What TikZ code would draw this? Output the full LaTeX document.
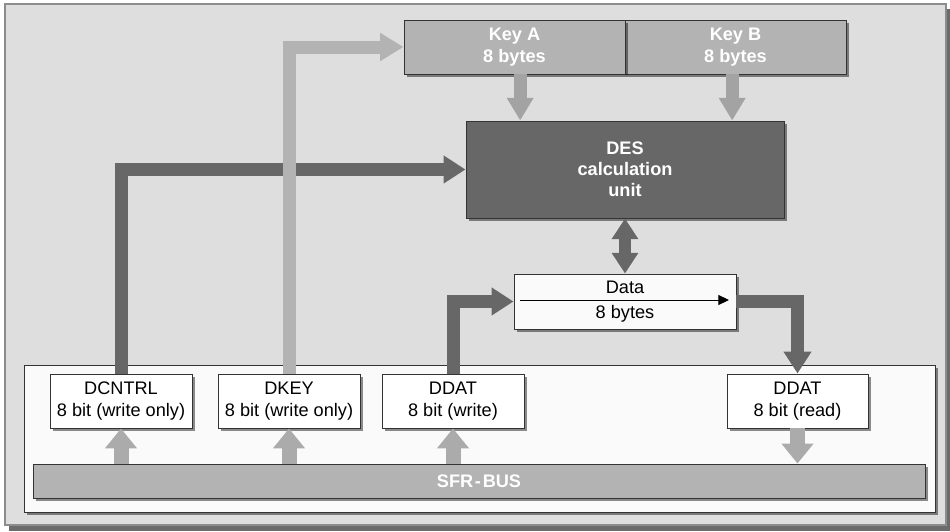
\documentclass[tikz,border=0pt]{standalone}
\usepackage{fontspec}
\setmainfont{Liberation Sans}
\usetikzlibrary{arrows.meta,shadows}
\definecolor{bggray}{HTML}{DEDEDE}
\definecolor{framegray}{HTML}{8C8C8C}
\definecolor{innerwhite}{HTML}{FAFAFA}
\definecolor{boxgray}{HTML}{B3B3B3}
\definecolor{darkgray}{HTML}{676767}
\definecolor{lightarrow}{HTML}{ABABAB}
\definecolor{keyarrow}{HTML}{A3A3A3}
\definecolor{bordergray}{HTML}{333333}
\begin{document}
\begin{tikzpicture}[x=0.03cm,y=-0.03cm,
  font=\fontsize{15.5}{18.5}\selectfont,
  shade/.style={drop shadow={shadow xshift=0.08cm,shadow yshift=-0.08cm,fill=black,opacity=0.45}},
  box/.style={draw=bordergray,line width=0.8pt,inner sep=0pt,align=center,shade},
  regbox/.style={box,fill=white,minimum width=4.26cm,minimum height=1.62cm},
  keybox/.style={box,fill=boxgray,text=white,font=\fontsize{15.5}{18.5}\selectfont\bfseries,minimum width=6.63cm,minimum height=1.62cm},
  darrow/.style={draw=darkgray,line width=0.39cm,-{Triangle[width=0.8cm,length=0.66cm]}},
  dkarrow/.style={draw=boxgray,line width=0.39cm,-{Triangle[width=0.8cm,length=0.7cm]}},
  karrow/.style={draw=keyarrow,line width=0.39cm,-{Triangle[width=0.76cm,length=0.68cm]}},
  busarrow/.style={draw=lightarrow,line width=0.45cm,-{Triangle[width=0.93cm,length=0.6cm]}},
  dblarrow/.style={draw=darkgray,line width=0.38cm,{Triangle[width=0.76cm,length=0.62cm]}-{Triangle[width=0.76cm,length=0.62cm]}}
]
\useasboundingbox (0,0) rectangle (950,532);
% outer frame
\fill[black!58] (9,9) rectangle (950,531);
\draw[fill=bggray,draw=framegray,line width=1.2pt] (5,4) rectangle (946,525);
% inner white panel
\draw[fill=innerwhite,draw=bordergray,line width=0.8pt,shade] (24,365) rectangle (935,512);

% nodes
\node[box,fill=boxgray,text=white,font=\fontsize{15.5}{18.5}\selectfont\bfseries,
  minimum width=26.76cm,minimum height=1.02cm] (bus) at (479,481) {SFR\kern1.5pt-\kern1.5pt BUS};
\node[regbox] (dcntrl) at (121,401) {DCNTRL\\8 bit (write only)};
\node[regbox] (dkey) at (289,401) {DKEY\\8 bit (write only)};
\node[regbox] (ddatw) at (453,401) {DDAT\\8 bit (write)};
\node[regbox,minimum width=4.23cm] (ddatr) at (797.5,401) {DDAT\\8 bit (read)};
\node[keybox] (keyb) at (735.5,47) {Key B\\8 bytes};
\node[keybox] (keya) at (514.5,47) {Key A\\8 bytes};
\node[box,fill=darkgray,text=white,font=\fontsize{15.5}{18}\selectfont\bfseries,
  minimum width=9.54cm,minimum height=2.91cm] (des) at (625,169.5) {DES\\calculation\\unit};
\node[box,fill=innerwhite,minimum width=6.66cm,minimum height=1.65cm] (data) at (625,301.5) {};
\node (datatxt) at (625,287) {Data};
\node (databytes) at (625,314) {8 bytes};
\coordinate (dl) at (520,300);
\coordinate (dr) at (729,300);
\draw[line width=0.8pt,-{Triangle[width=0.3cm,length=0.32cm]}] (dl) -- (dr);

% connectors
\draw[darrow] (dcntrl.north) |- (des.west);
\draw[dkarrow] (dkey.north) |- (keya.west);
\draw[darrow] (ddatw.north) |- (data.west);
\draw[darrow] (data.east) -| (ddatr.north);
\draw[karrow] ([xshift=0.17cm]keya.south) -- ([xshift=0.17cm]keya.south |- des.north);
\draw[karrow] ([xshift=-0.1cm]keyb.south) -- ([xshift=-0.1cm]keyb.south |- des.north);
\draw[dblarrow] (des.south) -- (data.north);
\draw[busarrow] (dcntrl.south |- bus.north) -- (dcntrl.south);
\draw[busarrow] (dkey.south |- bus.north) -- (dkey.south);
\draw[busarrow] (ddatw.south |- bus.north) -- (ddatw.south);
\draw[busarrow] (ddatr.south) -- (ddatr.south |- bus.north);
\end{tikzpicture}
\end{document}
